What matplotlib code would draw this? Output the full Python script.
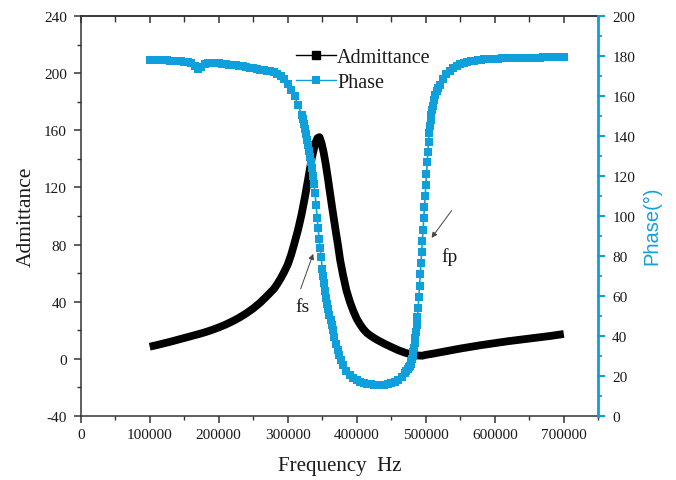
import matplotlib
matplotlib.use("Agg")
import matplotlib.pyplot as plt
from matplotlib.lines import Line2D
from matplotlib.ticker import MultipleLocator

# ---------------- data ----------------
adm_freq_khz = [100, 110, 120, 130, 140, 150, 160, 170, 180, 190, 200, 210, 220, 230,
                240, 250, 260, 270, 280, 285, 290, 295, 300, 305, 310, 315, 320, 325,
                330, 335, 340, 343, 346, 349, 352, 355, 358, 361, 364, 367, 370, 373,
                376, 380, 385, 390, 395, 400, 405, 410, 415, 420, 425, 430, 440, 450, 460,
                470, 480, 490, 495, 500, 510, 520, 530, 540, 550, 560, 570, 580, 590,
                600, 610, 620, 630, 640, 650, 660, 670, 680, 690, 700]
admittance = [8.5, 9.6, 10.8, 12.0, 13.3, 14.6, 15.9, 17.2, 18.6, 20.2, 22.0, 24.0, 26.3, 28.9,
              31.9, 35.3, 39.3, 44.0, 49.0, 52.5, 56.5, 61.0, 66.0, 73.0, 81.5, 90.5, 101.0, 113.5,
              127.0, 141.0, 151.0, 154.5, 155.2, 151.0, 144.5, 136.5, 127.0, 117.0, 107.0, 97.5, 88.0, 79.0,
              69.0, 59.0, 48.0, 40.0, 33.5, 28.0, 24.0, 20.6, 18.0, 16.2, 14.6, 13.2, 10.6, 8.3, 6.1,
              4.3, 3.0, 2.3, 2.2, 2.8, 3.6, 4.5, 5.4, 6.3, 7.2, 8.0, 8.8, 9.6, 10.3,
              11.0, 11.7, 12.4, 13.0, 13.6, 14.2, 14.8, 15.4, 16.0, 16.7, 17.4]

phase_freq_khz = [100, 105, 110, 115, 120, 125, 130, 135, 140, 145, 150, 155, 160, 165, 170, 175,
                  180, 185, 190, 195, 200, 205, 210, 215, 220, 225, 230, 235, 240, 245, 250, 255,
                  260, 265, 270, 275, 280, 285, 290, 295, 300, 305, 310, 315,
                  320, 321.5, 323, 324.5, 326, 327.5, 329, 330.5, 332, 333.5, 335, 336.5, 338,
                  339.5, 341, 342.5, 344, 345.5, 347, 348.5, 350, 351.5, 353, 354.5, 356, 357.5,
                  359, 360.5, 362, 363.5, 365, 367.5, 370, 372.5, 375, 377.5, 380,
                  385, 390, 395, 400, 405, 410, 415, 420, 425, 430, 435, 440, 445, 450, 455,
                  460, 465, 470, 472, 474, 476, 477, 478, 479, 480, 481, 482, 483, 484, 485,
                  486, 487, 488, 489, 490, 491, 492, 493, 494, 495, 496, 497, 498, 499, 500,
                  501, 502, 503, 504, 505, 506, 507, 508, 509, 510, 512, 514, 516, 518, 520,
                  525, 530, 535, 540, 545, 550, 555, 560, 565, 570, 575, 580, 585, 590, 595,
                  600, 605, 610, 615, 620, 625, 630, 635, 640, 645, 650, 655, 660, 665, 670,
                  675, 680, 685, 690, 695, 700]
phase_deg = [178.0, 178.0, 177.9, 177.9, 177.8, 177.8, 177.7, 177.6, 177.5, 177.4, 177.2, 177.0,
             176.3, 174.8, 173.6, 174.5, 176.0, 176.4, 176.5, 176.4, 176.3, 176.1, 175.9, 175.7,
             175.5, 175.3, 175.1, 174.8, 174.5, 174.2, 173.8, 173.5, 173.2, 172.9, 172.6, 172.3,
             172.0, 171.2, 170.0, 168.3, 166.0, 163.2, 159.8, 155.5,
             150.5, 148.3, 146.0, 143.6, 141.0, 138.2, 135.3, 132.4, 129.6, 127.0, 124.0, 120.2, 115.8,
             111.5, 105.5, 99.2, 93.8, 88.7, 84.0, 79.3, 73.5, 70.0, 66.3, 62.5, 59.2, 56.2,
             53.4, 50.7, 48.0, 45.3, 42.8, 39.3, 36.0, 33.0, 30.3, 27.8, 25.7,
             22.5, 20.5, 19.0, 18.0, 17.2, 16.6, 16.2, 15.9, 15.7, 15.6, 15.6, 15.7, 16.0, 16.5, 17.2,
             18.2, 19.6, 21.5, 22.4, 23.3, 24.3, 25.0, 26.0, 27.2, 28.6, 30.2, 32.0, 34.0, 36.4, 39.0,
             42.0, 45.5, 49.5, 54.0, 59.6, 65.2, 70.8, 76.4, 82.0, 87.6, 93.2, 98.8, 104.4, 110.0, 115.6,
             121.2, 126.8, 132.2, 137.2, 141.5, 145.0, 148.0, 150.6, 152.8, 154.8, 158.0, 160.5, 162.5, 164.2, 165.6,
             168.5, 170.8, 172.6, 174.0, 175.0, 175.8, 176.4, 176.9, 177.3, 177.6, 177.9, 178.1, 178.3, 178.4, 178.5,
             178.6, 178.7, 178.8, 178.85, 178.9, 178.95, 179.0, 179.05, 179.1, 179.15, 179.2, 179.2, 179.2, 179.25, 179.3,
             179.3, 179.3, 179.3, 179.3, 179.35, 179.4]

x_ticks = [0, 100000, 200000, 300000, 400000, 500000, 600000, 700000]
left_ticks = [-40, 0, 40, 80, 120, 160, 200, 240]
right_ticks = [0, 20, 40, 60, 80, 100, 120, 140, 160, 180, 200]

# ---------------- style ----------------
BLUE = "#0FA0DC"
DARK = "#333333"
TXT = "#1a1a1a"
SERIF = ["Liberation Serif", "DejaVu Serif"]
SANS = ["Liberation Sans", "DejaVu Sans"]

plt.rcParams["font.family"] = SERIF
plt.rcParams["axes.linewidth"] = 1.1

fig = plt.figure(figsize=(6.76, 4.81), dpi=100)
ax = fig.add_axes([80.7 / 676, 1 - 417 / 481, (598.3 - 80.7) / 676, 400 / 481])
ax2 = ax.twinx()

adm_f = [f * 1000 for f in adm_freq_khz]
ph_f = [f * 1000 for f in phase_freq_khz]

ax.plot(adm_f, admittance, color="black", lw=5.6, solid_joinstyle="round",
        solid_capstyle="butt", zorder=3)
ax2.plot(ph_f, phase_deg, color=BLUE, lw=1.2, marker="s", ms=5.4, mew=0, zorder=3)

ax.set_xlim(0, 750000)
ax.set_ylim(-40, 240)
ax2.set_ylim(0, 200)

ax.set_xticks(x_ticks)
ax.set_xticklabels([str(v) for v in x_ticks])
ax.xaxis.set_minor_locator(MultipleLocator(50000))
ax.set_yticks(left_ticks)
ax.set_yticklabels([str(v) for v in left_ticks])
ax.yaxis.set_minor_locator(MultipleLocator(20))
ax2.set_yticks(right_ticks)
ax2.set_yticklabels([str(v) for v in right_ticks])
ax2.yaxis.set_minor_locator(MultipleLocator(10))

for side in ["left", "bottom", "top"]:
    ax.spines[side].set_color(DARK)
ax.spines["right"].set_visible(False)
for side in ["left", "bottom", "top"]:
    ax2.spines[side].set_visible(False)
ax2.spines["right"].set_color(BLUE)
ax2.spines["right"].set_linewidth(2.0)

ax.tick_params(axis="both", which="major", direction="out", length=5, width=1.1,
               color=DARK, labelsize=11, labelcolor=TXT)
ax.tick_params(axis="both", which="minor", direction="out", length=3, width=1.0, color=DARK)
ax.tick_params(axis="x", which="major", pad=3.5)
ax.tick_params(axis="y", which="major", pad=5)
ax.tick_params(axis="y", which="both", right=False)

top = ax.secondary_xaxis("top")
top.set_xticks(x_ticks)
top.xaxis.set_minor_locator(MultipleLocator(50000))
top.tick_params(which="both", direction="in", labeltop=False, color=DARK)
top.tick_params(which="major", length=5, width=1.1)
top.tick_params(which="minor", length=4, width=1.0)
top.spines["top"].set_color(DARK)

ax2.tick_params(axis="y", which="major", direction="out", length=5, width=1.5,
                color=BLUE, labelsize=11, labelcolor=TXT, pad=5)
ax2.tick_params(axis="y", which="minor", direction="out", length=3, width=1.3, color=BLUE)

ax.set_xlabel("Frequency  Hz", fontsize=15, labelpad=11, color=TXT)
ax.set_ylabel("Admittance", fontsize=15.5, labelpad=6, color=TXT)
ax2.set_ylabel("Phase(°)", fontsize=14.5, color=BLUE, family=SANS)
ax2.yaxis.set_label_coords((642 - 80.7) / 517.6, (417 - 226) / 400)

# annotations
ax.annotate("", xy=(336900, 73.5), xytext=(318700, 49),
            arrowprops=dict(arrowstyle="-|>", color="#444444", lw=0.7,
                            mutation_scale=8, shrinkA=0, shrinkB=0))
ax.text(322000, 37, "fs", fontsize=14, ha="center", va="center", color=TXT)
ax.annotate("", xy=(508400, 84.7), xytext=(537400, 103.8),
            arrowprops=dict(arrowstyle="-|>", color="#444444", lw=0.7,
                            mutation_scale=8, shrinkA=0, shrinkB=0))
ax.text(534900, 72.3, "fp", fontsize=14, ha="center", va="center", color=TXT)

# legend
handles = [Line2D([], [], color="black", lw=1.0, marker="s", ms=5.5),
           Line2D([], [], color=BLUE, lw=1.0, marker="s", ms=5.5, mew=0)]
leg = ax2.legend(handles, ["Admittance", "Phase"], loc="upper left",
                 bbox_to_anchor=(296 / 676, 1 - 49 / 481), bbox_transform=fig.transFigure,
                 frameon=False, fontsize=14.5, handlelength=2.0, handletextpad=0.05,
                 labelspacing=0.28, borderpad=0, borderaxespad=0)
for t in leg.get_texts():
    t.set_color(TXT)

fig.savefig("out.png", dpi=100)
